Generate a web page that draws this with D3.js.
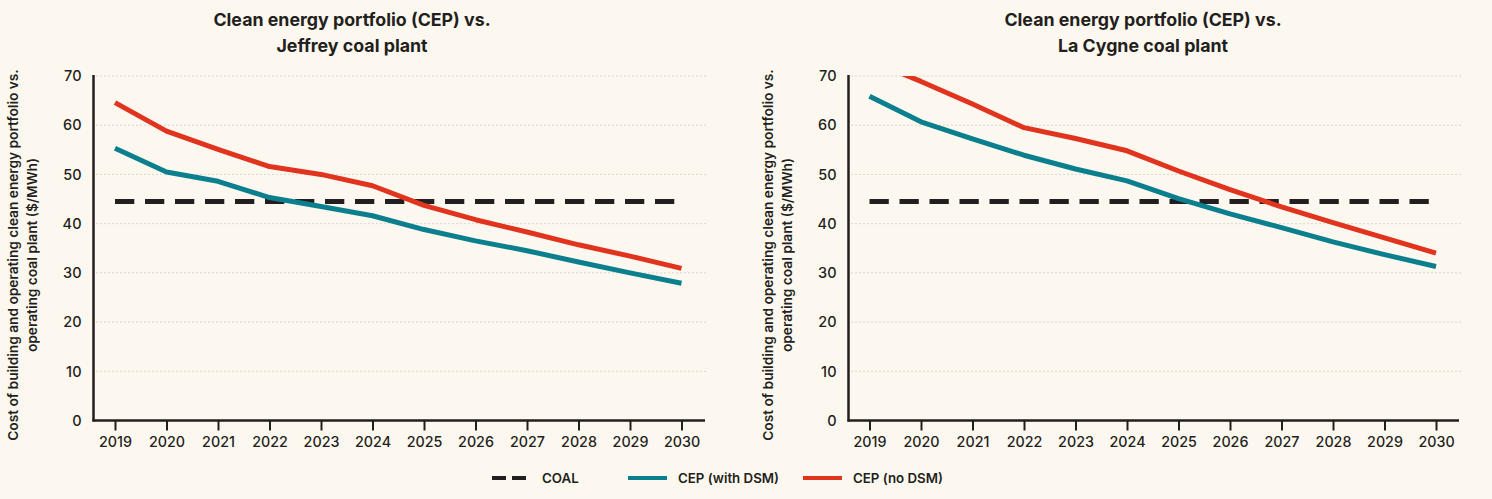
<!DOCTYPE html>
<html>
<head>
<meta charset="utf-8">
<script src="https://cdn.jsdelivr.net/npm/d3@7"></script>
<style>
  body { margin: 0; background: #fdf8ef; }
  svg { display: block; font-family: Inter, "Open Sans", sans-serif; }
</style>
</head>
<body>
<svg id="chart" width="1492" height="499"></svg>
<script>
// values ($/MWh)
const years = [2019, 2020, 2021, 2022, 2023, 2024, 2025, 2026, 2027, 2028, 2029, 2030];
const yTicks = [0, 10, 20, 30, 40, 50, 60, 70];

const jeffreyWithDSM = [55.3, 50.5, 48.6, 45.3, 43.5, 41.6, 38.8, 36.5, 34.5, 32.2, 30.0, 27.9];
const jeffreyNoDSM   = [64.6, 58.8, 55.1, 51.6, 50.0, 47.7, 43.7, 40.8, 38.3, 35.7, 33.4, 30.9];
const jeffreyCoal = 44.5;

const laCygneWithDSM = [65.9, 60.7, 57.2, 53.9, 51.1, 48.7, 45.1, 42.0, 39.2, 36.3, 33.7, 31.3];
const laCygneNoDSM   = [73.2, 68.9, 64.3, 59.5, 57.3, 54.8, 50.7, 46.9, 43.4, 40.2, 37.1, 34.0];
const laCygneCoal = 44.5;

const legendItems = [
  {label: "COAL", color: "#231f20", dash: "14,6"},
  {label: "CEP (with DSM)", color: "#0b7f8e", dash: null},
  {label: "CEP (no DSM)", color: "#e1341f", dash: null}
];

const teal = "#0b7f8e";
const red = "#e1341f";
const ink = "#231f20";

const svg = d3.select("#chart");

function drawPanel(o) {
  const g = svg.append("g");

  let x = d3.scaleLinear().domain([2019, 2030]).range([o.x0, o.x1]);
  let y = d3.scaleLinear().domain([0, 70]).range([420.5, 76]);

  // title
  g.append("text")
    .attr("text-anchor", "middle")
    .style("font-size", "17.8px").style("font-weight", 700).style("fill", ink)
    .selectAll("tspan").data(o.title).enter().append("tspan")
    .attr("x", o.titleX)
    .attr("y", (d, i) => 26 + i * 26)
    .text(d => d);

  // y axis label
  const lab = g.append("text")
    .attr("transform", `translate(${o.labelX},255) rotate(-90)`)
    .attr("text-anchor", "middle")
    .style("font-size", "13.7px").style("font-weight", 600).style("fill", ink);
  lab.append("tspan").attr("x", 0).attr("y", 0).text("Cost of building and operating clean energy portfolio vs.");
  lab.append("tspan").attr("x", 0).attr("y", 19).text("operating coal plant ($/MWh)");

  // dotted gridlines
  g.append("g").selectAll("line").data(yTicks.filter(d => d > 0)).enter()
    .append("line")
    .attr("x1", o.axisX + 3).attr("x2", o.gridEnd)
    .attr("y1", d => y(d)).attr("y2", d => y(d))
    .style("stroke", "#b9b5ad").style("stroke-width", 1)
    .style("stroke-dasharray", "1,3");

  // y tick labels
  g.append("g").selectAll("text").data(yTicks).enter()
    .append("text")
    .attr("x", o.axisX - 12).attr("y", d => y(d))
    .attr("dy", "0.36em")
    .attr("text-anchor", "end")
    .style("font-size", "14.5px").style("font-weight", 500).style("fill", ink)
    .text(d => d);

  // x axis with ticks below
  const xAxis = d3.axisBottom(x).tickValues(years).tickFormat(d3.format("d"))
    .tickSize(10).tickSizeOuter(0).tickPadding(6);
  const ax = g.append("g").attr("transform", "translate(0,420.5)").call(xAxis);
  ax.select(".domain").remove();
  ax.selectAll(".tick line").style("stroke", ink).style("stroke-width", 2);
  ax.selectAll(".tick text").style("font-size", "14.3px").style("font-weight", 500)
    .style("fill", ink).style("font-family", "Inter, sans-serif");

  g.append("line").attr("x1", o.axisX - 1).attr("x2", o.axisEnd)
    .attr("y1", 420.5).attr("y2", 420.5)
    .style("stroke", ink).style("stroke-width", 2.5);
  g.append("line").attr("x1", o.axisX).attr("x2", o.axisX)
    .attr("y1", 75).attr("y2", 421.5)
    .style("stroke", ink).style("stroke-width", 2.5);

  // clip to plot area
  const clipId = "clip-" + o.id;
  svg.append("defs").append("clipPath").attr("id", clipId)
    .append("rect").attr("x", o.axisX).attr("y", y(70)).attr("width", o.gridEnd - o.axisX)
    .attr("height", y(0) - y(70));

  const plot = g.append("g").attr("clip-path", `url(#${clipId})`);

  // coal line
  plot.append("line")
    .attr("x1", x(2019)).attr("x2", x(2030))
    .attr("y1", y(o.coal)).attr("y2", y(o.coal))
    .style("stroke", ink).style("stroke-width", 5)
    .style("stroke-dasharray", "19.3,10.7");

  const line = d3.line().x((d, i) => x(years[i])).y(d => y(d));

  plot.append("path").datum(o.withDSM).attr("d", line)
    .style("fill", "none").style("stroke", teal).style("stroke-width", 5)
    .style("stroke-linejoin", "round");
  plot.append("path").datum(o.noDSM).attr("d", line)
    .style("fill", "none").style("stroke", red).style("stroke-width", 5)
    .style("stroke-linejoin", "round");
}

drawPanel({
  id: "jeffrey",
  title: ["Clean energy portfolio (CEP) vs.", "Jeffrey coal plant"],
  titleX: 352, labelX: 18,
  axisX: 93.5, axisEnd: 705, gridEnd: 707,
  x0: 115, x1: 681.5,
  withDSM: jeffreyWithDSM, noDSM: jeffreyNoDSM, coal: jeffreyCoal
});

drawPanel({
  id: "lacygne",
  title: ["Clean energy portfolio (CEP) vs.", "La Cygne coal plant"],
  titleX: 1143, labelX: 773,
  axisX: 848.5, axisEnd: 1459, gridEnd: 1461,
  x0: 869.5, x1: 1436,
  withDSM: laCygneWithDSM, noDSM: laCygneNoDSM, coal: laCygneCoal
});

// legend
const legendX = [492, 628, 803];
const lg = svg.append("g").attr("transform", "translate(0,478)");
legendItems.forEach((d, i) => {
  lg.append("line")
    .attr("x1", legendX[i]).attr("x2", legendX[i] + 39)
    .attr("y1", 0).attr("y2", 0)
    .style("stroke", d.color).style("stroke-width", 4)
    .style("stroke-dasharray", d.dash);
  lg.append("text")
    .attr("x", legendX[i] + 50).attr("y", 0).attr("dy", "0.36em")
    .style("font-size", "13.3px").style("font-weight", 600).style("fill", ink)
    .text(d.label);
});
</script>
</body>
</html>
